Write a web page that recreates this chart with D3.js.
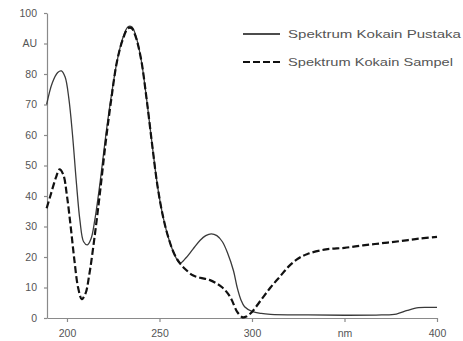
<!DOCTYPE html>
<html>
<head>
<meta charset="utf-8">
<script src="https://cdn.jsdelivr.net/npm/d3@7"></script>
<style>
  body { margin: 0; background: #fff; }
  svg { display: block; font-family: "Liberation Sans", Arial, sans-serif; }
</style>
</head>
<body>
<svg id="graph" width="463" height="341"></svg>
<script>
// spectra (nm, AU)
const pustakaNm = [189,192,195,197,199,201,203,205,207,209,211,213,215,218,221,224,227,230,233,235,237,240,243,246,249,252,255,258,261,264,268,272,275,278,281,284,287,290,292,294,296,300,305,310,330,350,370,378,384,390,395,400];
const pustakaAU = [70,77,80.5,81,79,72,60,45,32,25,24,26,32,45,60,73,84,91.5,95.5,95.5,93,85,72,57,43,33,26,21,18,19.5,22.5,25.5,27,27.6,27,25,21,15.5,10,6,3.7,2.2,1.5,1.2,1,0.9,1,1.3,2.5,3.4,3.5,3.5];

const sampelNm = [189,191,194,196,198,200,202,204,206,208,210,212,215,218,221,224,227,230,233,235,237,240,243,246,249,252,255,258,261,264,268,272,277,281,284,287,289,292,295,297,300,305,310,315,320,325,330,340,350,360,370,380,390,400];
const sampelAU = [36,40,46,48.7,47,40,30,19,10,6.2,8,14,27,42,58,72,84,91,95,95,92.5,85,72,57,43,33,26,21,18,16,14,13.2,12.5,11.3,10,8,6,2,0.2,0.5,2,6,10,13.5,17,19.5,21,22.5,23,23.8,24.5,25.2,26,26.6];

const xTicks = [200, 250, 300, 350, 400];
const xTickLabels = ["200", "250", "300", "nm", "400"];
const yTicks = [0, 10, 20, 30, 40, 50, 60, 70, 80, 90, 100];
const yTickLabels = ["0", "10", "20", "30", "40", "50", "60", "70", "80", "AU", "100"];
const seriesNames = ["Spektrum Kokain Pustaka", "Spektrum Kokain Sampel"];

const svg = d3.select("#graph");

const x = d3.scaleLinear().domain([189.2, 400]).range([47, 437]);
const y = d3.scaleLinear().domain([0, 100]).range([318, 13]);

// axes
const xAxis = d3.axisBottom(x)
    .tickValues(xTicks)
    .tickSize(4)
    .tickSizeOuter(0)
    .tickFormat((d, i) => xTickLabels[i]);
const yAxis = d3.axisLeft(y)
    .tickValues(yTicks)
    .tickSize(3)
    .tickSizeOuter(0)
    .tickFormat((d, i) => yTickLabels[i]);

const gx = svg.append("g").attr("transform", "translate(0,318)").call(xAxis);
const gy = svg.append("g").attr("transform", "translate(47,0)").call(yAxis);

[gx, gy].forEach(g => {
  g.selectAll("path, line").attr("stroke", "#8a8a8a").attr("stroke-width", 1.2);
  g.selectAll("text")
      .attr("fill", "#555")
      .attr("font-size", 10.5)
      .attr("font-family", "Liberation Sans, Arial, sans-serif");
});
gx.selectAll("text").attr("dy", "1.1em");
gy.selectAll("text").attr("x", -10);

// curves
const line = d3.line()
    .x(d => x(d[0]))
    .y(d => y(d[1]))
    .curve(d3.curveCatmullRom.alpha(0.5));

const pustaka = pustakaNm.map((v, i) => [v, pustakaAU[i]]);
const sampel = sampelNm.map((v, i) => [v, sampelAU[i]]);

svg.append("path")
    .datum(pustaka)
    .attr("fill", "none")
    .attr("stroke", "#3a3a3a")
    .attr("stroke-width", 1.3)
    .attr("d", line);

svg.append("path")
    .datum(sampel)
    .attr("fill", "none")
    .attr("stroke", "#111")
    .attr("stroke-width", 2.2)
    .attr("stroke-dasharray", "7,3")
    .attr("d", line);

// legend
const legend = svg.append("g");
const legRows = [
  {name: seriesNames[0], y: 34, dash: null, w: 1.3, x2: 280, len: 173},
  {name: seriesNames[1], y: 62, dash: "7,3", w: 2.2, x2: 283, len: 165}
];
legRows.forEach(r => {
  legend.append("line")
      .attr("x1", 243).attr("x2", r.x2)
      .attr("y1", r.y).attr("y2", r.y)
      .attr("stroke", "#111")
      .attr("stroke-width", r.w)
      .attr("stroke-dasharray", r.dash);
  legend.append("text")
      .attr("x", 288).attr("y", r.y + 4)
      .attr("font-size", 11.5)
      .attr("fill", "#555")
      .attr("textLength", r.len)
      .attr("lengthAdjust", "spacingAndGlyphs")
      .text(r.name);
});
</script>
</body>
</html>
